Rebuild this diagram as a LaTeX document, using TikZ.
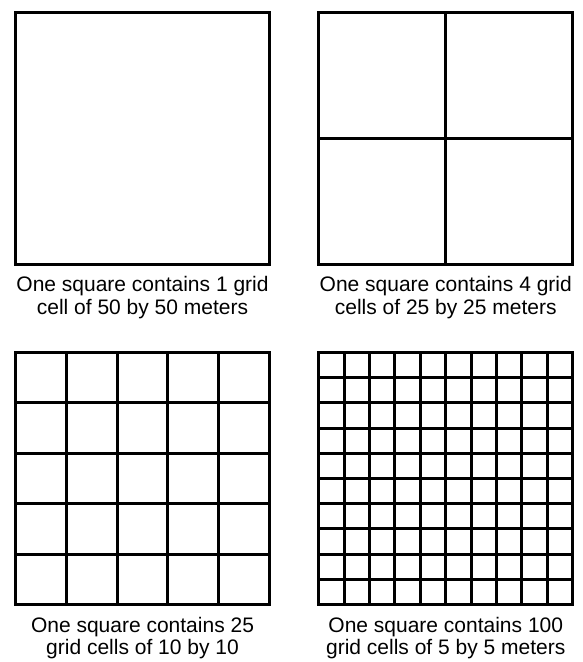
\documentclass[tikz,border=0pt]{standalone}
\usepackage{fontspec}
\setmainfont{Liberation Sans}
\usetikzlibrary{positioning, calc}

\begin{document}
\begin{tikzpicture}[
    x=1pt, y=-1pt,
    every node/.style={font=\fontsize{21}{22.5}\selectfont, align=center},
    square/.style={rectangle, draw=black, line width=3pt, minimum width=254pt, minimum height=252pt, inner sep=0pt, outer sep=0pt},
    caption/.style={inner sep=0pt},
    gridline/.style={line width=3pt}
]
\useasboundingbox (0,0) rectangle (582,662);

% SQUARES
\node[square] (one) at (142.5,138) {};
\node[square] (four) at (445.75,138) {};
\node[square] (twentyfive) at (142.5,478.5) {};
\node[square] (hundred) at (445.75,478.5) {};

% GRID LINES
\draw[gridline] (four.north) -- (four.south);
\draw[gridline] (four.west) -- (four.east);
\foreach \i in {1,...,4} {
    \draw[gridline] ($(twentyfive.north west)!\i/5!(twentyfive.north east)$) -- ($(twentyfive.south west)!\i/5!(twentyfive.south east)$);
    \draw[gridline] ($(twentyfive.north west)!\i/5!(twentyfive.south west)$) -- ($(twentyfive.north east)!\i/5!(twentyfive.south east)$);
}
\foreach \i in {1,...,9} {
    \draw[gridline] ($(hundred.north west)!\i/10!(hundred.north east)$) -- ($(hundred.south west)!\i/10!(hundred.south east)$);
    \draw[gridline] ($(hundred.north west)!\i/10!(hundred.south west)$) -- ($(hundred.north east)!\i/10!(hundred.south east)$);
}

% CAPTIONS
\node[caption, below=12.5pt of one] (onetext) {One square contains 1 grid\\cell of 50 by 50 meters};
\node[caption, below=12.5pt of four] (fourtext) {One square contains 4 grid\\cells of 25 by 25 meters};
\node[caption, below=12.5pt of twentyfive] (twentyfivetext) {One square contains 25\\grid cells of 10 by 10};
\node[caption, below=12.5pt of hundred] (hundredtext) {One square contains 100\\grid cells of 5 by 5 meters};

\end{tikzpicture}
\end{document}
